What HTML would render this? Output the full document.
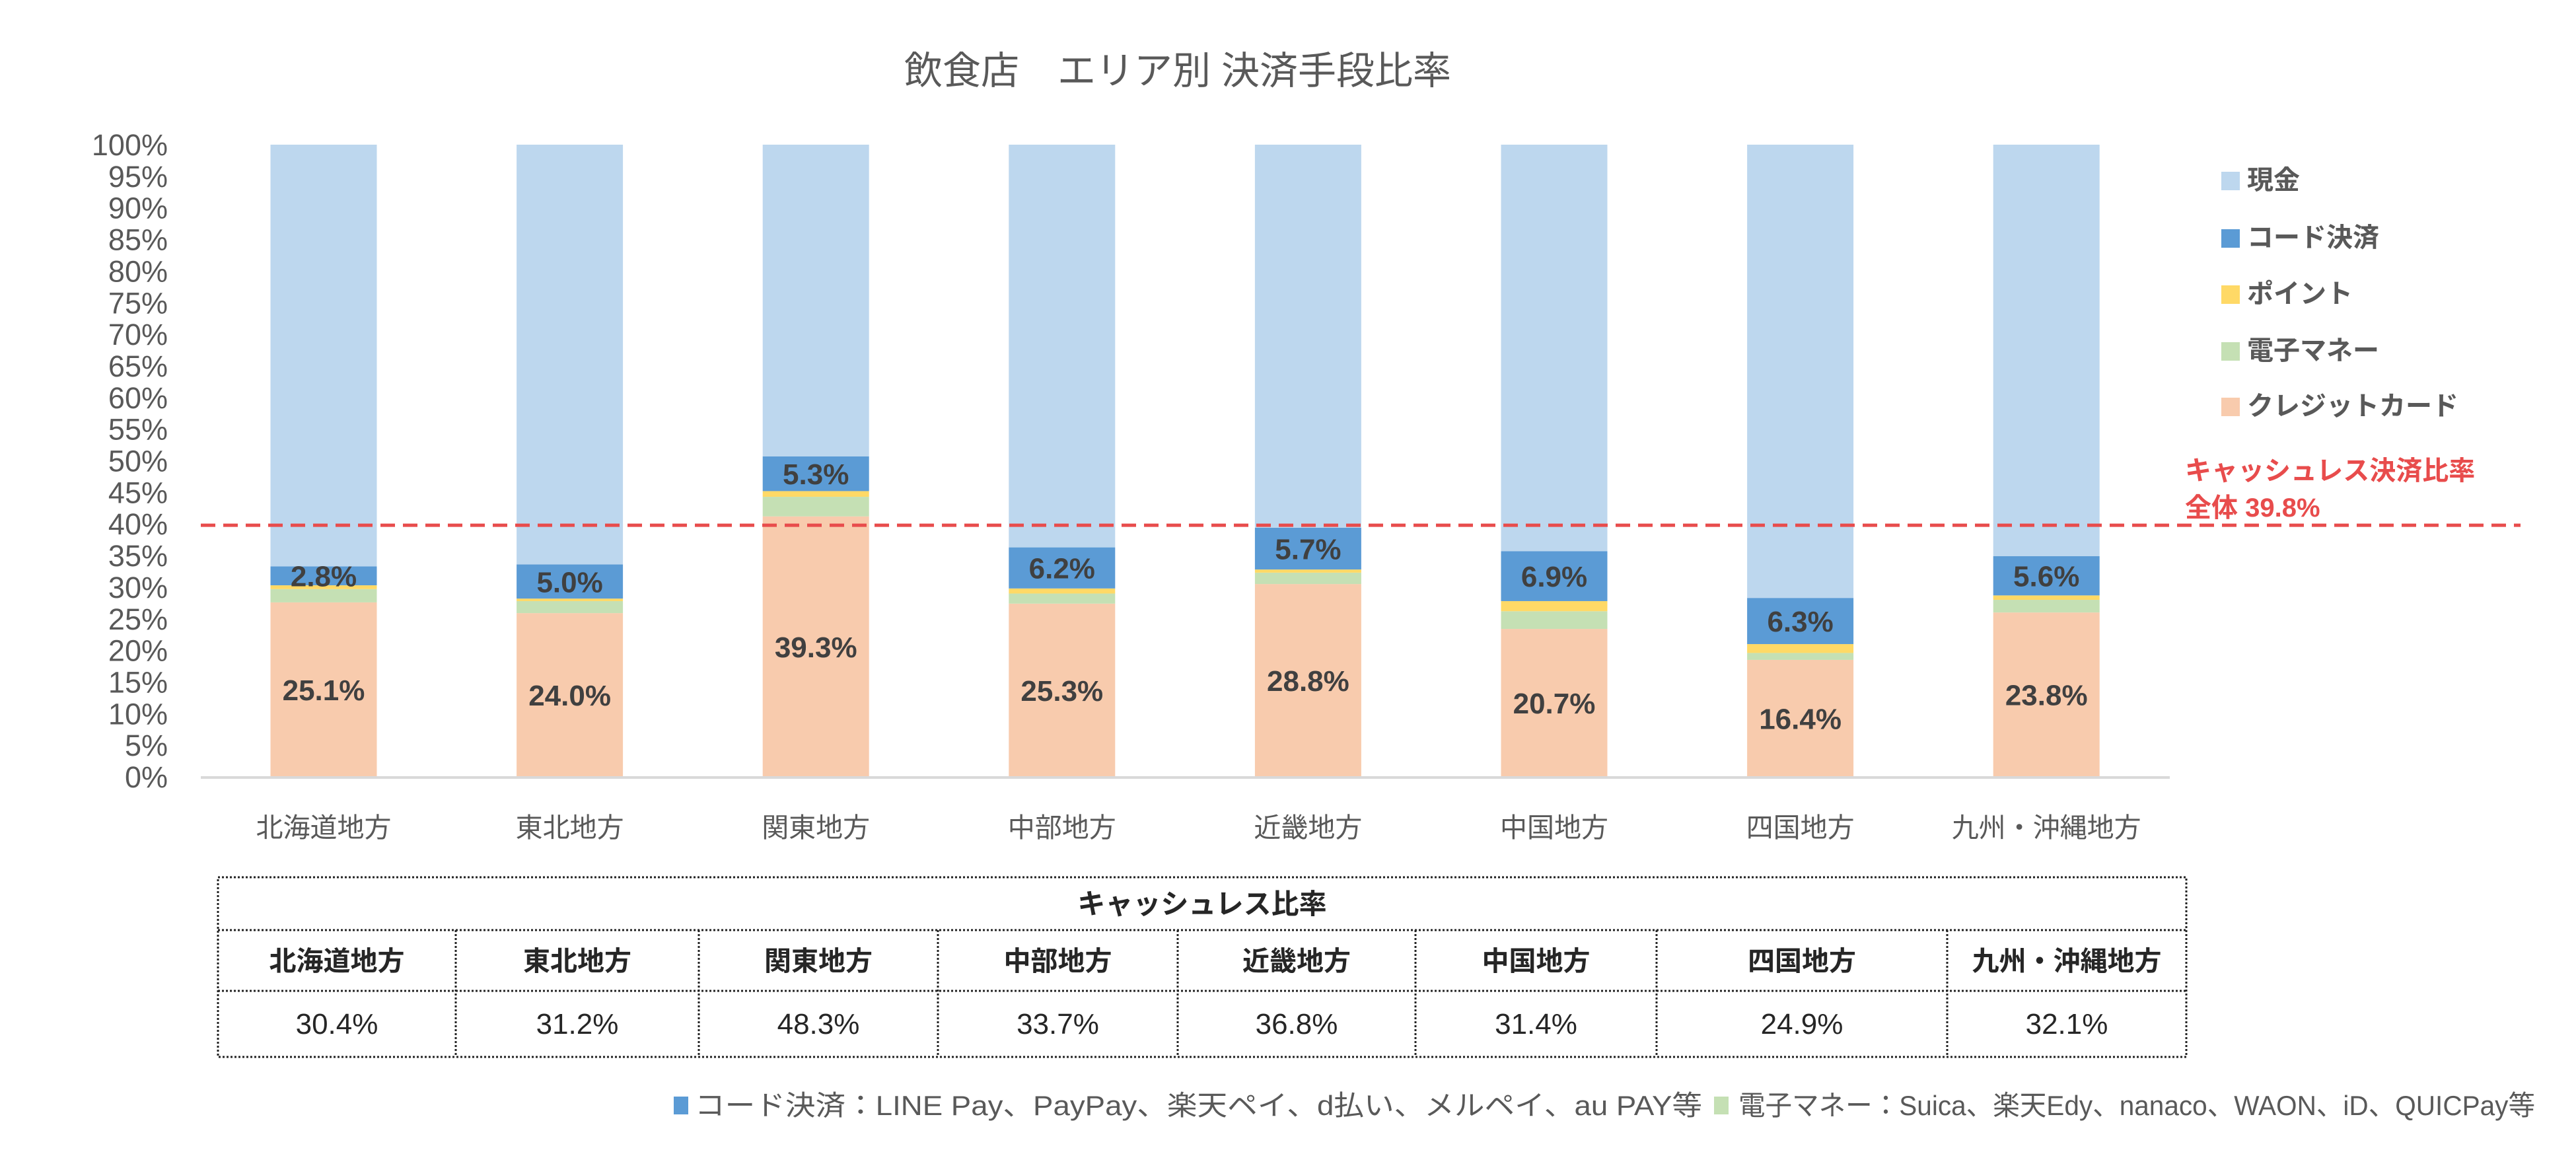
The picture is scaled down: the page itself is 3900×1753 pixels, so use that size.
<!DOCTYPE html>
<html><head><meta charset="utf-8"><style>
html,body{margin:0;padding:0;background:#fff;}
svg{display:block;}
text{font-family:"Liberation Sans","Noto Sans CJK JP",sans-serif;}
</style></head><body>
<svg id="chart" xmlns="http://www.w3.org/2000/svg" width="3900" height="1753" viewBox="0 0 3900 1753">
<rect x="0" y="0" width="3900" height="1753" fill="#fff"/>
<text x="1783" y="127" font-size="58" fill="#595959" text-anchor="middle">飲食店　エリア別 決済手段比率</text>
<g id="yaxis"></g>
<g id="bars"></g>
<g id="xaxis"></g>
<g id="legend"></g>
<g id="table"></g>
<g>
<rect x="1020" y="1660" width="22" height="27" fill="#5b9bd5"/>
<text x="1052" y="1688" font-size="42" fill="#595959" textLength="1525" lengthAdjust="spacingAndGlyphs">コード決済：LINE Pay、PayPay、楽天ペイ、d払い、メルペイ、au PAY等</text>
<rect x="2595" y="1660" width="22" height="27" fill="#c5e0b4"/>
<text x="2632" y="1688" font-size="42" fill="#595959" textLength="1206" lengthAdjust="spacingAndGlyphs">電子マネー：Suica、楽天Edy、nanaco、WAON、iD、QUICPay等</text>
</g>
</svg>
<script>
const categories = ["北海道地方","東北地方","関東地方","中部地方","近畿地方","中国地方","四国地方","九州・沖縄地方"];
const creditValues = [27.6,25.9,41.2,27.4,30.5,23.4,18.5,26.0];
const emoneyValues = [2.1,1.9,3.1,1.6,1.8,2.8,1.1,2.0];
const pointValues = [0.6,0.4,0.9,0.8,0.5,1.6,1.4,0.7];
const codeValues = [3.0,5.4,5.5,6.5,6.6,7.9,7.3,6.2];
const creditLabels = ["25.1%","24.0%","39.3%","25.3%","28.8%","20.7%","16.4%","23.8%"];
const codeLabels = ["2.8%","5.0%","5.3%","6.2%","5.7%","6.9%","6.3%","5.6%"];
const cashlessRatios = ["30.4%","31.2%","48.3%","33.7%","36.8%","31.4%","24.9%","32.1%"];
const overallCashless = 39.8;
const yTicks = [0,5,10,15,20,25,30,35,40,45,50,55,60,65,70,75,80,85,90,95,100];

const NS = "http://www.w3.org/2000/svg";
const plotTop = 219, plotBottom = 1176;
const y = v => plotBottom - v / 100 * (plotBottom - plotTop);
const xCenter = i => 490 + i * 372.6;
const barW = 161;
function mk(tag, attrs, parent) {
  const e = document.createElementNS(NS, tag);
  for (const k in attrs) e.setAttribute(k, attrs[k]);
  parent.appendChild(e);
  return e;
}
const yaxis = document.getElementById('yaxis');
yTicks.forEach(t => {
  const e = mk('text', {x: 254, y: y(t) + 16, 'font-size': 45, fill: '#595959', 'text-anchor': 'end'}, yaxis);
  
  
  e.textContent = t + '%';
});
const bars = document.getElementById('bars');
const series = [
  {vals: creditValues, color: '#f8cbad', name: 'credit'},
  {vals: emoneyValues, color: '#c5e0b4', name: 'emoney'},
  {vals: pointValues, color: '#ffd966', name: 'point'},
  {vals: codeValues, color: '#5b9bd5', name: 'code'}
];
categories.forEach((c, i) => {
  let base = 0;
  const cx = xCenter(i);
  series.forEach(s => {
    const v = s.vals[i];
    const r = mk('rect', {x: cx - barW / 2, y: y(base + v), width: barW, height: y(base) - y(base + v), fill: s.color}, bars);
    
    
    base += v;
  });
  const cash = mk('rect', {x: cx - barW / 2, y: y(100), width: barW, height: y(base) - y(100), fill: '#bdd7ee'}, bars);
  
  
  const codeBase = creditValues[i] + emoneyValues[i] + pointValues[i];
  const cl = mk('text', {x: cx, y: y(codeBase + codeValues[i] / 2) + 16, 'font-size': 44, 'font-weight': 'bold', fill: '#404040', 'text-anchor': 'middle'}, bars);
  
  
  cl.textContent = codeLabels[i];
  const crl = mk('text', {x: cx, y: y(creditValues[i] / 2) + 16, 'font-size': 44, 'font-weight': 'bold', fill: '#404040', 'text-anchor': 'middle'}, bars);
  
  
  crl.textContent = creditLabels[i];
});
const xaxis = document.getElementById('xaxis');
const axl = mk('line', {x1: 304, x2: 3285, y1: plotBottom + 1, y2: plotBottom + 1, stroke: '#d9d9d9', 'stroke-width': 4}, xaxis);


categories.forEach((c, i) => {
  const t = mk('text', {x: xCenter(i), y: 1267, 'font-size': 41, fill: '#595959', 'text-anchor': 'middle'}, xaxis);
  
  
  t.textContent = c;
});
const ref = mk('line', {x1: 304, x2: 3816, y1: y(overallCashless), y2: y(overallCashless), stroke: '#e84c4c', 'stroke-width': 5, 'stroke-dasharray': '22 12'}, bars);


const a1 = mk('text', {x: 3308, y: 726, 'font-size': 40, 'font-weight': 'bold', fill: '#e84c4c'}, bars);


a1.textContent = 'キャッシュレス決済比率';
const a2 = mk('text', {x: 3308, y: 782, 'font-size': 40, 'font-weight': 'bold', fill: '#e84c4c'}, bars);


a2.textContent = '全体 ' + overallCashless.toFixed(1) + '%';

const legend = document.getElementById('legend');
const legendItems = [['現金', '#bdd7ee'], ['コード決済', '#5b9bd5'], ['ポイント', '#ffd966'], ['電子マネー', '#c5e0b4'], ['クレジットカード', '#f8cbad']];
const legendY = [270, 357, 442, 528, 612];
legendItems.forEach((it, i) => {
  const r = mk('rect', {x: 3363, y: legendY[i] - 10, width: 28, height: 28, fill: it[1]}, legend);
  
  
  const t = mk('text', {x: 3402, y: legendY[i] + 16, 'font-size': 40, 'font-weight': 'bold', fill: '#595959'}, legend);
  
  
  t.textContent = it[0];
});

const table = document.getElementById('table');
const tL = 330, tR = 3310, tT = 1328, tH = 1408, tN = 1500, tB = 1600;
const colX = [330, 690, 1058, 1420, 1783, 2143, 2508, 2948, 3310];
const dash = {stroke: '#222', 'stroke-width': 3, 'stroke-dasharray': '3 3', fill: 'none'};
const box = mk('rect', Object.assign({x: tL, y: tT, width: tR - tL, height: tB - tT}, dash), table);


[tH, tN].forEach(yy => {
  const l = mk('line', Object.assign({x1: tL, x2: tR, y1: yy, y2: yy}, dash), table);
  
  
});
colX.slice(1, -1).forEach(xx => {
  const l = mk('line', Object.assign({x1: xx, x2: xx, y1: tH, y2: tB}, dash), table);
  
  
});
const th = mk('text', {x: (tL + tR) / 2, y: 1383, 'font-size': 42, 'font-weight': 'bold', fill: '#262626', 'text-anchor': 'middle'}, table);


th.textContent = 'キャッシュレス比率';
categories.forEach((c, i) => {
  const cx = (colX[i] + colX[i + 1]) / 2;
  const n = mk('text', {x: cx, y: 1469, 'font-size': 41, 'font-weight': 'bold', fill: '#262626', 'text-anchor': 'middle'}, table);
  
  
  n.textContent = c;
  const v = mk('text', {x: cx, y: 1565, 'font-size': 44, fill: '#262626', 'text-anchor': 'middle'}, table);
  
  
  v.textContent = cashlessRatios[i];
});
</script>
</body></html>
